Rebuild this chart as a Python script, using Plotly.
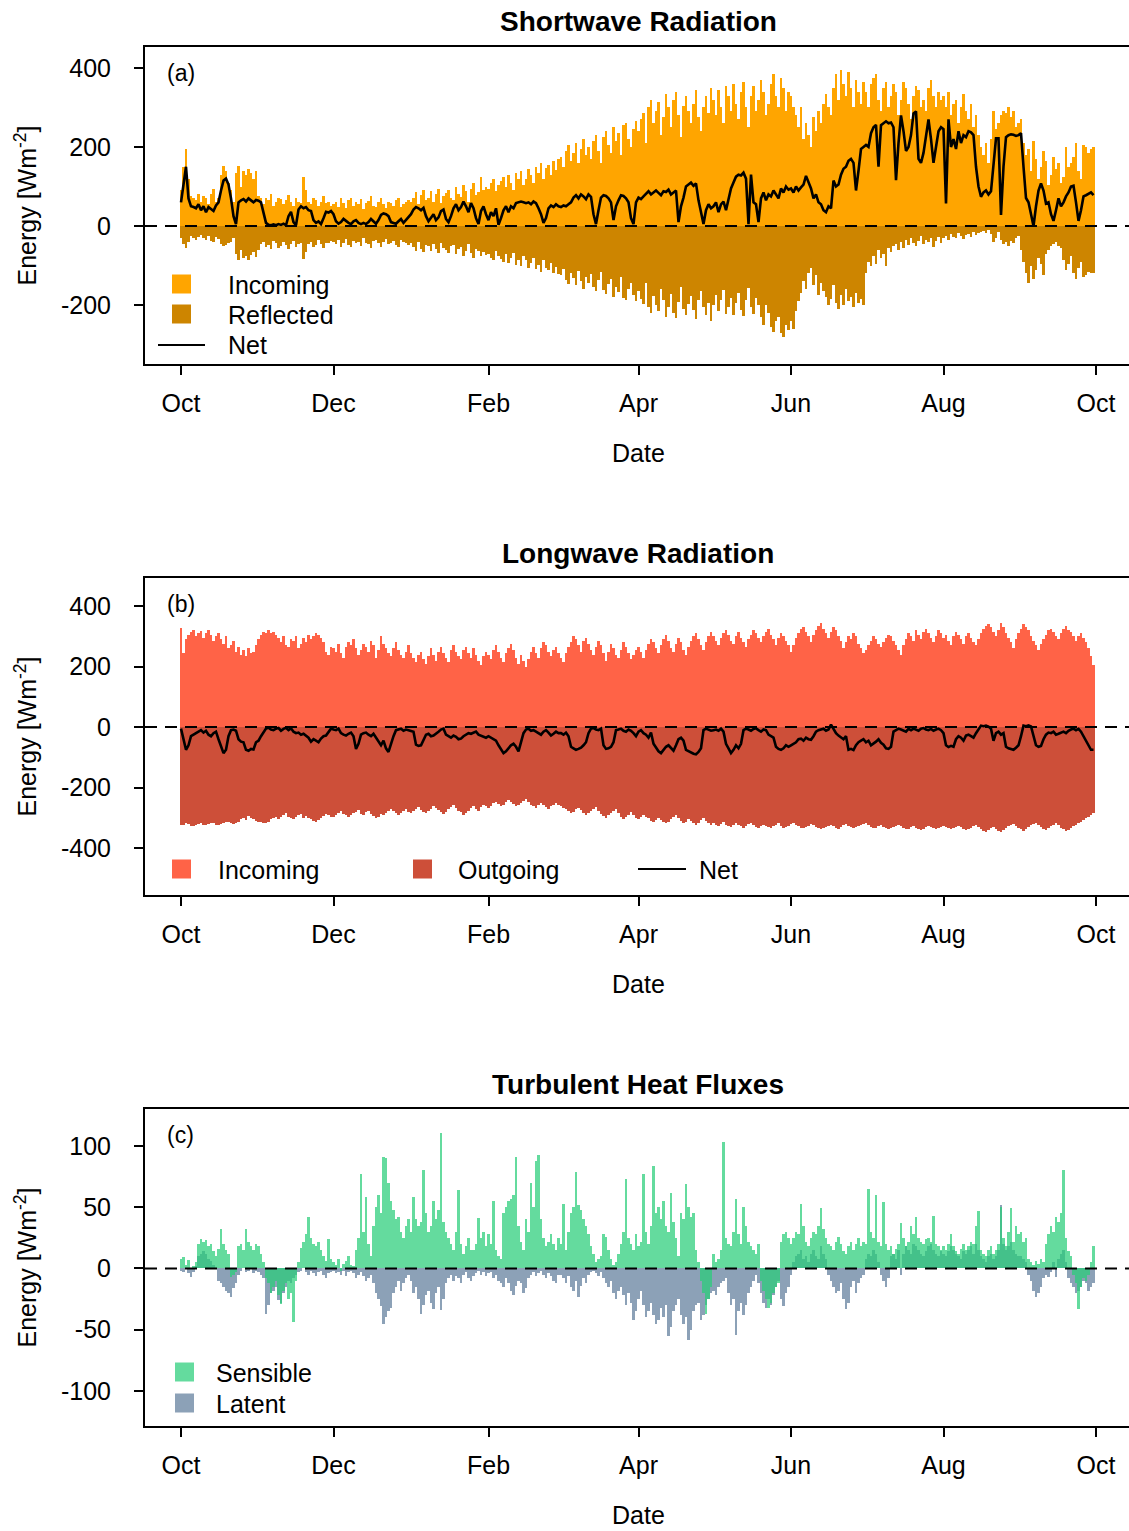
import pandas as pd
import plotly.graph_objects as go

W, H = 1129, 1531
FONT = "Liberation Sans, Arial, Helvetica, sans-serif"

# Daily series, 1 Oct 2015 - 30 Sep 2016 (one row per month)
dates = pd.date_range("2015-10-01", "2016-09-30", freq="D")

sw_incoming = (
    [90, 150, 195, 120, 75, 70, 65, 80, 60, 75, 70, 55, 80, 95, 60, 70, 130, 152, 140, 110, 90, 60, 135, 152, 100, 140, 130, 145, 135, 120, 140]
    + [75, 72, 55, 70, 65, 80, 50, 60, 72, 68, 55, 65, 78, 60, 50, 70, 62, 58, 124, 90, 60, 55, 70, 65, 50, 62, 75, 58, 60, 52]
    + [55, 62, 48, 70, 58, 45, 66, 72, 50, 60, 55, 68, 42, 58, 63, 75, 52, 48, 60, 70, 55, 45, 62, 58, 50, 66, 72, 48, 55, 60, 65]
    + [60, 72, 85, 55, 78, 90, 65, 70, 88, 62, 80, 95, 58, 75, 84, 92, 70, 66, 98, 80, 74, 105, 88, 62, 95, 110, 78, 85, 125, 90, 100]
    + [95, 110, 120, 88, 105, 115, 125, 98, 130, 110, 92, 135, 120, 140, 105, 118, 145, 128, 110, 150, 135, 160, 120, 148, 155, 130, 165, 142, 170]
    + [175, 150, 190, 205, 165, 185, 210, 160, 195, 220, 180, 200, 170, 215, 230, 190, 160, 225, 240, 205, 185, 250, 215, 235, 180, 255, 260, 220, 200, 245, 265]
    + [240, 270, 285, 210, 300, 320, 260, 290, 315, 230, 275, 335, 300, 250, 320, 340, 280, 225, 305, 330, 290, 260, 310, 345, 275, 240, 300, 330, 285, 350]
    + [320, 280, 345, 300, 260, 355, 330, 290, 360, 310, 270, 340, 365, 300, 250, 330, 355, 290, 320, 370, 340, 280, 310, 360, 385, 330, 300, 375, 350, 290, 340]
    + [330, 300, 280, 250, 300, 220, 260, 230, 200, 275, 240, 290, 260, 310, 335, 300, 280, 350, 385, 320, 395, 360, 330, 390, 350, 300, 370, 340, 310, 365]
    + [340, 300, 360, 375, 385, 320, 290, 350, 365, 300, 330, 360, 340, 280, 320, 365, 350, 310, 270, 330, 355, 345, 300, 320, 290, 350, 370, 330, 300, 340, 320]
    + [330, 300, 340, 280, 310, 320, 260, 300, 335, 290, 270, 310, 250, 280, 230, 200, 180, 210, 160, 220, 290, 245, 260, 280, 290, 285, 300, 275, 290, 250, 260]
    + [270, 210, 180, 195, 140, 215, 170, 120, 150, 190, 165, 105, 130, 175, 145, 160, 110, 125, 200, 150, 160, 175, 210, 140, 120, 205, 200, 185, 195, 200]
)

sw_reflected = (
    [-30, -45, -55, -40, -25, -30, -35, -28, -22, -30, -35, -25, -38, -40, -28, -32, -45, -50, -48, -42, -40, -30, -70, -86, -60, -80, -75, -85, -72, -65, -78]
    + [-60, -45, -40, -52, -48, -58, -38, -44, -55, -50, -40, -48, -58, -45, -38, -52, -46, -42, -84, -66, -45, -40, -52, -48, -36, -46, -55, -42, -44, -38]
    + [-40, -46, -35, -52, -43, -33, -48, -53, -37, -44, -40, -50, -31, -43, -46, -55, -38, -35, -44, -52, -40, -33, -46, -43, -37, -48, -53, -35, -40, -44, -48]
    + [-44, -53, -62, -40, -57, -66, -48, -51, -64, -45, -58, -69, -42, -55, -61, -67, -51, -48, -71, -58, -54, -76, -64, -45, -69, -80, -57, -62, -75, -65, -73]
    + [-70, -80, -87, -64, -76, -84, -91, -71, -94, -80, -67, -98, -87, -101, -76, -86, -105, -93, -80, -108, -98, -115, -87, -107, -112, -94, -118, -103, -122]
    + [-125, -108, -136, -147, -118, -132, -150, -114, -140, -158, -129, -143, -122, -154, -165, -136, -115, -161, -172, -147, -133, -179, -154, -168, -129, -182, -186, -158, -143, -175, -190]
    + [-165, -185, -196, -144, -206, -220, -178, -199, -216, -158, -188, -229, -205, -171, -219, -232, -192, -154, -209, -226, -198, -178, -212, -236, -188, -164, -205, -226, -195, -240]
    + [-200, -175, -215, -188, -162, -222, -206, -181, -225, -194, -169, -212, -228, -188, -156, -206, -222, -181, -200, -231, -250, -200, -220, -255, -268, -240, -230, -270, -281, -250, -262]
    + [-240, -260, -215, -190, -170, -140, -160, -120, -105, -150, -125, -175, -145, -165, -180, -200, -185, -150, -195, -210, -175, -200, -160, -190, -180, -205, -170, -195, -185, -200]
    + [-120, -90, -100, -75, -95, -60, -80, -70, -100, -55, -65, -50, -45, -60, -40, -55, -35, -48, -30, -42, -50, -38, -25, -45, -35, -40, -30, -52, -38, -28, -42]
    + [-30, -25, -35, -20, -28, -30, -18, -25, -32, -22, -20, -28, -15, -22, -18, -15, -12, -18, -10, -20, -40, -30, -15, -35, -45, -40, -50, -38, -42, -30, -25]
    + [-60, -90, -120, -145, -100, -135, -110, -80, -95, -125, -70, -60, -50, -45, -40, -50, -55, -85, -110, -95, -75, -120, -135, -105, -90, -130, -125, -115, -120, -120]
)

sw_net = (
    [60, 110, 150, 70, 50, 48, 45, 55, 40, 50, 35, 48, 42, 38, 52, 60, 90, 115, 120, 105, 70, 25, 5, 60, 65, 68, 62, 70, 65, 60, 66]
    + [64, 60, 30, 8, 3, 2, 4, 2, 5, 3, 6, 2, 25, 36, 10, 2, 42, 50, 45, 48, 40, 38, 15, 8, 12, 5, 20, 36, 34, 38]
    + [30, 12, 6, 10, 18, 12, 8, 5, 12, 15, 8, 5, 8, 5, 10, 18, 12, 6, 15, 28, 32, 30, 25, 10, 8, 6, 12, 18, 8, 15, 22]
    + [30, 42, 48, 45, 40, 46, 25, 12, 20, 30, 15, 22, 38, 42, 18, 10, 25, 45, 55, 40, 48, 62, 50, 35, 58, 45, 20, 5, 38, 50, 30]
    + [15, 35, 25, 45, 3, 20, 40, 50, 35, 50, 45, 58, 60, 62, 60, 58, 60, 55, 62, 58, 45, 30, 8, 20, 45, 52, 48, 55, 50]
    + [48, 52, 50, 55, 60, 72, 78, 70, 80, 75, 68, 80, 74, 30, 5, 40, 72, 78, 76, 70, 60, 15, 50, 65, 78, 76, 70, 60, 20, 5, 60]
    + [72, 68, 75, 82, 88, 80, 85, 90, 84, 78, 88, 86, 92, 80, 85, 90, 10, 50, 72, 100, 105, 110, 102, 108, 65, 30, 5, 40, 55, 45]
    + [50, 60, 35, 55, 62, 40, 70, 95, 110, 125, 130, 128, 135, 120, 5, 130, 60, 55, 10, 70, 85, 65, 80, 75, 90, 78, 70, 95, 85, 100, 92]
    + [95, 85, 100, 90, 98, 105, 127, 110, 95, 70, 80, 60, 55, 40, 35, 50, 45, 115, 100, 105, 130, 145, 150, 165, 170, 160, 90, 140, 195, 200]
    + [205, 200, 235, 250, 256, 150, 255, 260, 265, 260, 262, 250, 116, 210, 280, 240, 190, 200, 230, 285, 290, 170, 160, 185, 230, 270, 220, 160, 200, 240, 250]
    + [245, 57, 270, 200, 220, 195, 240, 210, 230, 225, 240, 237, 230, 150, 100, 74, 85, 90, 80, 88, 150, 222, 222, 28, 150, 225, 230, 232, 231, 228, 230]
    + [235, 150, 71, 60, 30, 0, 50, 90, 108, 90, 57, 60, 30, 13, 40, 70, 50, 60, 75, 85, 100, 102, 60, 13, 40, 75, 78, 82, 85, 78]
)

lw_incoming = (
    [327, 245, 290, 305, 315, 320, 300, 310, 318, 295, 312, 320, 305, 285, 300, 310, 290, 275, 300, 260, 270, 285, 250, 265, 240, 255, 235, 260, 245, 250, 270]
    + [290, 305, 315, 312, 320, 310, 315, 305, 295, 280, 300, 270, 265, 290, 285, 300, 260, 275, 295, 280, 305, 290, 300, 310, 305, 295, 280, 250, 240, 265]
    + [260, 250, 275, 245, 230, 265, 280, 270, 290, 260, 240, 255, 275, 265, 250, 285, 270, 230, 255, 300, 275, 260, 245, 235, 260, 280, 255, 240, 230, 250, 270]
    + [245, 230, 215, 240, 250, 225, 210, 235, 260, 240, 220, 250, 265, 245, 230, 215, 255, 270, 250, 235, 225, 255, 265, 245, 230, 260, 240, 220, 205, 235, 250]
    + [240, 225, 255, 270, 250, 230, 215, 245, 260, 275, 255, 230, 210, 240, 220, 200, 225, 250, 265, 245, 230, 260, 280, 270, 250, 235, 255, 265, 245]
    + [230, 215, 245, 265, 280, 300, 290, 270, 250, 285, 295, 275, 255, 240, 265, 285, 270, 245, 220, 250, 275, 260, 240, 230, 255, 280, 265, 245, 225, 240, 255]
    + [265, 250, 230, 255, 275, 290, 280, 260, 245, 270, 290, 305, 285, 260, 250, 275, 295, 280, 255, 240, 265, 285, 300, 310, 290, 270, 255, 280, 300, 315]
    + [300, 285, 270, 295, 310, 320, 305, 285, 275, 300, 315, 295, 280, 265, 290, 305, 320, 310, 295, 280, 300, 315, 325, 305, 290, 270, 295, 310, 300, 285, 270]
    + [250, 270, 295, 310, 325, 330, 315, 300, 280, 305, 320, 335, 345, 325, 310, 295, 315, 330, 320, 300, 285, 260, 280, 300, 290, 310, 300, 275, 260, 245]
    + [255, 270, 285, 300, 290, 275, 265, 280, 295, 305, 300, 285, 270, 255, 240, 270, 290, 310, 300, 285, 320, 305, 290, 315, 325, 310, 295, 280, 300, 320, 310]
    + [295, 305, 285, 270, 300, 315, 305, 290, 275, 300, 310, 295, 280, 270, 290, 310, 325, 335, 340, 330, 315, 300, 320, 345, 330, 310, 295, 280, 260, 290, 310]
    + [325, 340, 330, 320, 300, 285, 270, 255, 275, 290, 305, 320, 325, 315, 300, 290, 310, 325, 335, 320, 315, 300, 285, 300, 310, 295, 280, 260, 235, 207]
)

lw_outgoing = (
    [-325, -322, -318, -320, -326, -328, -324, -320, -318, -322, -325, -320, -316, -318, -322, -324, -320, -318, -315, -312, -316, -320, -318, -312, -305, -300, -308, -295, -300, -305, -310]
    + [-312, -315, -316, -318, -312, -305, -300, -296, -304, -298, -290, -285, -296, -300, -305, -298, -292, -288, -300, -294, -302, -305, -310, -312, -308, -300, -295, -288, -290, -296]
    + [-298, -290, -284, -278, -286, -292, -296, -290, -284, -280, -275, -286, -290, -282, -276, -288, -295, -300, -296, -288, -292, -284, -278, -270, -276, -284, -290, -285, -278, -272, -280]
    + [-284, -278, -270, -265, -274, -280, -285, -278, -270, -262, -268, -275, -282, -288, -280, -272, -265, -258, -268, -276, -282, -290, -285, -276, -268, -262, -270, -276, -265, -258, -262]
    + [-266, -260, -252, -246, -255, -262, -256, -248, -240, -246, -254, -262, -258, -250, -244, -238, -248, -256, -262, -268, -258, -250, -256, -264, -270, -262, -256, -250, -258]
    + [-262, -268, -272, -278, -285, -280, -272, -266, -275, -284, -290, -285, -276, -270, -264, -276, -288, -295, -300, -292, -285, -278, -270, -284, -296, -305, -298, -290, -282, -292, -300]
    + [-305, -298, -290, -296, -302, -310, -315, -308, -300, -306, -312, -318, -315, -305, -298, -292, -300, -310, -316, -312, -305, -310, -318, -322, -316, -308, -300, -310, -318, -322]
    + [-318, -322, -326, -320, -315, -322, -328, -330, -325, -318, -322, -328, -332, -326, -320, -318, -324, -330, -335, -328, -322, -326, -330, -334, -328, -322, -318, -326, -332, -330, -326]
    + [-320, -316, -322, -328, -332, -335, -330, -326, -320, -325, -330, -334, -338, -335, -330, -326, -322, -328, -332, -336, -330, -324, -320, -326, -330, -334, -330, -326, -322, -320]
    + [-318, -324, -330, -335, -332, -328, -324, -330, -334, -338, -335, -330, -326, -322, -328, -334, -338, -336, -330, -326, -332, -336, -340, -336, -330, -326, -330, -334, -338, -335, -330]
    + [-326, -330, -334, -338, -335, -330, -326, -330, -336, -340, -338, -332, -328, -324, -330, -336, -342, -348, -340, -334, -330, -336, -342, -346, -340, -334, -328, -324, -320, -326, -332]
    + [-338, -342, -336, -330, -325, -320, -316, -322, -330, -336, -340, -334, -328, -322, -318, -324, -332, -338, -344, -340, -334, -328, -322, -316, -312, -306, -300, -296, -290, -285]
)

lw_net = (
    [-5, -40, -75, -60, -30, -25, -20, -15, -10, -18, -12, -25, -30, -20, -15, -40, -60, -86, -75, -30, -10, -8, -12, -40, -48, -50, -75, -78, -72, -74, -50]
    + [-45, -30, -15, -5, -2, -8, -10, -5, -3, -12, -6, -2, -10, -4, -15, -20, -18, -25, -22, -30, -35, -48, -40, -45, -50, -38, -30, -28, -15, -5]
    + [-8, -10, -5, -20, -25, -28, -22, -18, -30, -72, -55, -25, -20, -18, -25, -30, -22, -35, -50, -60, -45, -70, -82, -55, -30, -10, -8, -5, -12, -8, -10]
    + [-12, -15, -58, -62, -60, -40, -25, -22, -30, -28, -20, -15, -8, -5, -25, -30, -35, -28, -32, -40, -38, -30, -25, -20, -22, -18, -15, -25, -28, -30, -35]
    + [-30, -35, -40, -45, -60, -75, -86, -80, -70, -60, -55, -65, -80, -50, -20, -8, -5, -12, -10, -15, -20, -25, -15, -10, -18, -28, -22, -15, -20]
    + [-20, -25, -18, -30, -65, -70, -75, -72, -68, -60, -50, -20, -5, -3, -8, -10, -5, -60, -72, -70, -65, -50, -10, -8, -5, -12, -15, -8, -12, -20, -30]
    + [-15, -10, -20, -25, -35, -18, -55, -70, -80, -86, -75, -65, -60, -70, -78, -60, -40, -35, -45, -75, -80, -85, -88, -90, -82, -70, -10, -5, -8, -12]
    + [-10, -8, -12, -5, -15, -55, -70, -86, -75, -60, -70, -55, -10, -5, -8, -12, -6, -4, -10, -15, -8, -10, -25, -30, -35, -65, -72, -75, -70, -60, -65]
    + [-60, -55, -50, -40, -38, -45, -35, -40, -42, -30, -15, -10, -8, -5, -12, -8, 8, -5, -20, -28, -35, -40, -30, -75, -72, -76, -60, -50, -45, -40]
    + [-50, -45, -60, -55, -48, -40, -52, -58, -70, -72, -65, -15, -10, -5, -8, -12, -15, -6, -10, -5, -8, -12, -5, -3, -8, -10, -6, -12, -8, -5, -10]
    + [-20, -60, -66, -62, -65, -40, -30, -35, -45, -28, -25, -30, -35, -20, -5, 5, 3, 5, 2, -5, -45, -20, -15, -25, -20, -65, -70, -72, -75, -68, -60]
    + [-30, 5, 3, 6, 2, -30, -60, -65, -62, -40, -25, -18, -20, -15, -25, -22, -18, -15, -20, -12, -8, -5, -10, -6, -15, -30, -45, -65, -75, -75]
)

sensible = (
    [8, 9, 3, 7, 0, 2, 5, 20, 24, 22, 23, 18, 20, 14, 10, 16, 32, 20, 15, 12, -7, -5, -3, 18, 20, 15, 32, 22, 18, 15, 20]
    + [18, 12, 5, -8, -12, -20, -15, -10, -22, -29, -18, -12, -25, -20, -44, -10, 5, 17, 22, 28, 42, 25, 20, 18, 22, 15, 10, 6, 24, 8]
    + [5, 3, 8, -2, 4, 6, 10, 3, 2, 15, 25, 77, 30, 58, 20, 10, 35, 50, 60, 45, 91, 90, 70, 55, 48, 40, 42, 30, 25, 35, 40]
    + [30, 58, 40, 35, 38, 80, 45, 30, 35, 55, 40, 48, 111, 38, 30, 25, 20, 15, 30, 64, 20, 12, 18, 25, 15, 15, 20, 41, 25, 30, 18]
    + [28, 20, 55, 15, 10, 8, 45, 50, 55, 57, 60, 91, 35, 22, 15, 40, 30, 70, 50, 88, 93, 40, 25, 18, 22, 28, 20, 15, 25]
    + [20, 53, 15, 30, 45, 50, 79, 52, 48, 40, 35, 28, 18, 12, 5, 8, 10, 28, 26, 15, 8, 3, 5, 12, 20, 30, 73, 25, 20, 15, 28]
    + [18, 22, 77, 30, 20, 35, 84, 45, 50, 40, 55, 35, 30, 62, 38, 25, 10, 45, 40, 69, 50, 42, 45, 15, 5, -10, -20, -37, -25, -15]
    + [12, 5, 8, 15, 103, 25, 20, 18, 30, 57, 28, 20, 50, 35, 22, 18, 15, 12, 20, -10, -18, -25, -32, -28, -20, -15, -12, 22, 28, 30, 25]
    + [20, 25, 30, 28, 53, 35, 22, 18, 25, 30, 28, 35, 49, 32, 25, 20, 18, 15, 22, 26, 20, 14, 12, 18, 22, 15, 20, 25, 18, 22]
    + [20, 65, 30, 25, 60, 22, 18, 54, 20, 15, 18, 12, 16, 20, 37, 25, 18, 22, 35, 28, 42, 25, 22, 20, 24, 25, 22, 43, 20, 18, 15]
    + [18, 15, 20, 28, 18, 14, 12, 16, 20, 15, 18, 22, 20, 35, 47, 15, 12, 10, 15, 18, 12, 15, 20, 50, 25, 18, 30, 49, 22, 35, 28]
    + [30, 22, 25, 8, 5, 3, 6, 4, 8, 5, 20, 28, 35, 30, 42, 38, 45, 80, 25, 14, 10, -5, -12, -33, -15, -8, -10, -5, 5, 18]
)

latent = (
    [-2, -3, 0, -4, -7, -3, 2, 10, 12, 14, 12, 8, 6, 3, 0, -10, -12, -15, -18, -20, -23, -16, -12, -5, -2, 0, -3, -2, 0, -4, -2]
    + [-3, -5, -8, -37, -30, -20, -18, -15, -26, -28, -20, -15, -10, -12, -8, -5, -3, -2, 0, -3, -5, -2, -4, -6, -3, -2, -5, -8, -4, -3]
    + [-2, -4, -3, -5, -2, -6, -3, -2, -4, -8, -5, -3, -6, -10, -8, -5, -12, -20, -25, -31, -45, -40, -35, -32, -20, -15, -10, -18, -12, -8, -5]
    + [-10, -20, -15, -25, -37, -30, -22, -18, -28, -33, -20, -15, -34, -25, -12, -8, -5, -10, -6, -8, -12, -5, -3, -8, -10, -6, -4, -2, -5, -3, -6]
    + [-4, -3, -8, -5, -10, -12, -15, -8, -12, -18, -22, -14, -10, -12, -20, -16, -8, -5, -3, -6, -4, -2, -5, -8, -4, -6, -10, -12, -5]
    + [-5, -8, -12, -6, -15, -18, -10, -23, -14, -8, -12, -5, -3, -2, -4, -6, -3, -8, -12, -15, -10, -20, -25, -18, -15, -22, -30, -20, -28, -42, -35]
    + [-25, -18, -30, -40, -35, -28, -38, -45, -42, -32, -40, -30, -55, -48, -35, -30, -25, -38, -45, -40, -58, -50, -35, -30, -28, -42, -38, -30, -25, -20]
    + [-18, -22, -15, -12, -10, -8, -20, -30, -25, -54, -35, -28, -38, -30, -20, -15, -10, -5, -12, -20, -28, -32, -25, -30, -22, -15, -10, -25, -31, -20, -15]
    + [-5, 5, 10, 12, 15, 8, 10, 5, 12, 15, 10, 8, 18, 12, 8, -5, -10, -15, -20, -18, -12, -25, -33, -28, -15, -10, -20, -12, -8, -5]
    + [8, 12, 10, 15, 12, 5, -5, -10, -15, -8, 10, 12, 8, 15, -5, 12, 18, 15, 12, 20, 18, 15, 12, 10, 14, 18, 20, 15, 12, 10, 14]
    + [12, 10, 14, 18, 15, 12, 10, 8, 14, 12, 15, 18, 12, 20, 15, 10, 8, 5, 10, 12, 8, 10, 15, 52, 20, 15, 18, 22, 15, 12, 10]
    + [10, 8, 5, -5, -10, -18, -23, -20, -15, -8, -5, -7, -3, 5, -7, 8, 12, 15, 5, -8, -12, -15, -20, -18, -15, -10, -12, -18, -15, -12]
)

for _name, _s in [("sw_incoming", sw_incoming), ("sw_reflected", sw_reflected), ("sw_net", sw_net),
                  ("lw_incoming", lw_incoming), ("lw_outgoing", lw_outgoing), ("lw_net", lw_net),
                  ("sensible", sensible), ("latent", latent)]:
    assert len(_s) == len(dates), (_name, len(_s))

tick_dates = ["2015-10-01", "2015-12-01", "2016-02-01", "2016-04-01", "2016-06-01", "2016-08-01", "2016-10-01"]
tick_text = ["Oct", "Dec", "Feb", "Apr", "Jun", "Aug", "Oct"]
x_range = ["2015-09-16 14:24", "2016-10-14 04:48"]

# colours
C_SW_IN, C_SW_REF = "#FFA500", "#CD8500"
C_LW_IN, C_LW_OUT = "#FF6347", "#CD4F39"
C_SENS = "rgba(40,205,120,0.72)"
C_SENS_KEY = "#64DB9E"
C_LAT = "#8CA1B7"

DAY_MS = 86400000
BAR_W = 0.9 * DAY_MS


def px(x):
    return x / W


def py(y):
    return 1 - y / H


fig = go.Figure()

# (a) shortwave
fig.add_bar(x=dates, y=sw_incoming, width=BAR_W, marker=dict(color=C_SW_IN, line_width=0),
            xaxis="x", yaxis="y", showlegend=False)
fig.add_bar(x=dates, y=sw_reflected, width=BAR_W, marker=dict(color=C_SW_REF, line_width=0),
            xaxis="x", yaxis="y", showlegend=False)
fig.add_scatter(x=dates, y=sw_net, mode="lines", line=dict(color="black", width=2.6),
                xaxis="x", yaxis="y", showlegend=False)

# (b) longwave
fig.add_bar(x=dates, y=lw_incoming, width=BAR_W, marker=dict(color=C_LW_IN, line_width=0),
            xaxis="x2", yaxis="y2", showlegend=False)
fig.add_bar(x=dates, y=lw_outgoing, width=BAR_W, marker=dict(color=C_LW_OUT, line_width=0),
            xaxis="x2", yaxis="y2", showlegend=False)
fig.add_scatter(x=dates, y=lw_net, mode="lines", line=dict(color="black", width=2.6),
                xaxis="x2", yaxis="y2", showlegend=False)

# (c) turbulent fluxes: latent underneath, translucent sensible on top
fig.add_bar(x=dates, y=latent, width=BAR_W, marker=dict(color=C_LAT, line_width=0),
            xaxis="x3", yaxis="y3", showlegend=False)
fig.add_bar(x=dates, y=sensible, width=BAR_W, marker=dict(color=C_SENS, line_width=0),
            xaxis="x3", yaxis="y3", showlegend=False)

panels = [
    # (x name, y name, top px, bottom px, y range, y ticks, title, letter)
    ("x", "y", 47, 364, [-349, 453], [-200, 0, 200, 400], "Shortwave Radiation", "(a)"),
    ("x2", "y2", 578, 895, [-555, 493], [-400, -200, 0, 200, 400], "Longwave Radiation", "(b)"),
    ("x3", "y3", 1109, 1426, [-128.6, 130.2], [-100, -50, 0, 50, 100], "Turbulent Heat Fluxes", "(c)"),
]

axis_font = dict(family=FONT, size=25, color="black")
layout_axes = {}
shapes = []
annotations = []
for xn, yn, top, bottom, yr, yt, title, letter in panels:
    xkey = "xaxis" + xn[1:]
    ykey = "yaxis" + yn[1:]
    layout_axes[xkey] = dict(
        domain=[px(145), 1], anchor=yn, type="date", range=x_range,
        tickmode="array", tickvals=tick_dates, ticktext=tick_text,
        ticks="outside", ticklen=9, tickwidth=1.5, tickcolor="black",
        showline=True, linecolor="black", linewidth=2, mirror=True,
        showgrid=False, zeroline=False, tickfont=axis_font, ticklabelstandoff=7,
    )
    layout_axes[ykey] = dict(
        domain=[py(bottom), py(top)], anchor=xn, range=yr,
        tickmode="array", tickvals=yt, ticktext=[str(v) for v in yt],
        ticks="outside", ticklen=9, tickwidth=1.5, tickcolor="black",
        showline=True, linecolor="black", linewidth=2, mirror=False,
        showgrid=False, zeroline=False, tickfont=axis_font, ticklabelstandoff=18,
    )
    # dashed zero line
    shapes.append(dict(type="line", xref=xn + " domain", yref=yn, x0=0, x1=1, y0=0, y1=0,
                       line=dict(color="black", width=2, dash="12px,8px"), layer="above"))
    mid = (top + bottom) / 2
    annotations += [
        dict(text="<b>" + title + "</b>", x=px(638), y=py(top - 25), xref="paper", yref="paper",
             xanchor="center", yanchor="middle", showarrow=False,
             font=dict(family=FONT, size=28, color="black")),
        dict(text="Date", x=px(638), y=py(bottom + 89), xref="paper", yref="paper",
             xanchor="center", yanchor="middle", showarrow=False, font=axis_font),
        dict(text="Energy [Wm<sup>-2</sup>]", x=px(25), y=py(mid), xref="paper", yref="paper",
             xanchor="center", yanchor="middle", textangle=-90, showarrow=False, font=axis_font),
        dict(text=letter, x=px(165), y=py(top + 26), xref="paper", yref="paper",
             xanchor="left", yanchor="middle", showarrow=False,
             font=dict(family=FONT, size=23, color="black")),
    ]


def key_square(x0, yc, color, size=19):
    shapes.append(dict(type="rect", xref="paper", yref="paper",
                       x0=px(x0), x1=px(x0 + size), y0=py(yc + size / 2), y1=py(yc - size / 2),
                       fillcolor=color, line=dict(width=0), layer="above"))


def key_line(x0, x1, yc):
    shapes.append(dict(type="line", xref="paper", yref="paper",
                       x0=px(x0), x1=px(x1), y0=py(yc), y1=py(yc),
                       line=dict(color="black", width=2), layer="above"))


def key_text(x0, yc, text):
    annotations.append(dict(text=text, x=px(x0), y=py(yc), xref="paper", yref="paper",
                            xanchor="left", yanchor="middle", showarrow=False,
                            font=dict(family=FONT, size=25, color="black")))


# legend (a)
key_square(172, 284, C_SW_IN)
key_text(226, 285, "Incoming")
key_square(172, 314, C_SW_REF)
key_text(226, 315, "Reflected")
key_line(158, 205, 345)
key_text(226, 345, "Net")

# legend (b)
key_square(172, 869, C_LW_IN)
key_text(216, 870, "Incoming")
key_square(413, 869, C_LW_OUT)
key_text(456, 870, "Outgoing")
key_line(638, 686, 869)
key_text(697, 870, "Net")

# legend (c)
key_square(175, 1372, C_SENS_KEY)
key_text(214, 1373, "Sensible")
key_square(175, 1403, C_LAT)
key_text(214, 1404, "Latent")

fig.update_layout(
    width=W, height=H, margin=dict(l=0, r=0, t=0, b=0),
    paper_bgcolor="white", plot_bgcolor="white",
    barmode="overlay", bargap=0, showlegend=False,
    font=dict(family=FONT, size=25, color="black"),
    shapes=shapes, annotations=annotations,
    **layout_axes,
)

fig.write_html("out.html")
